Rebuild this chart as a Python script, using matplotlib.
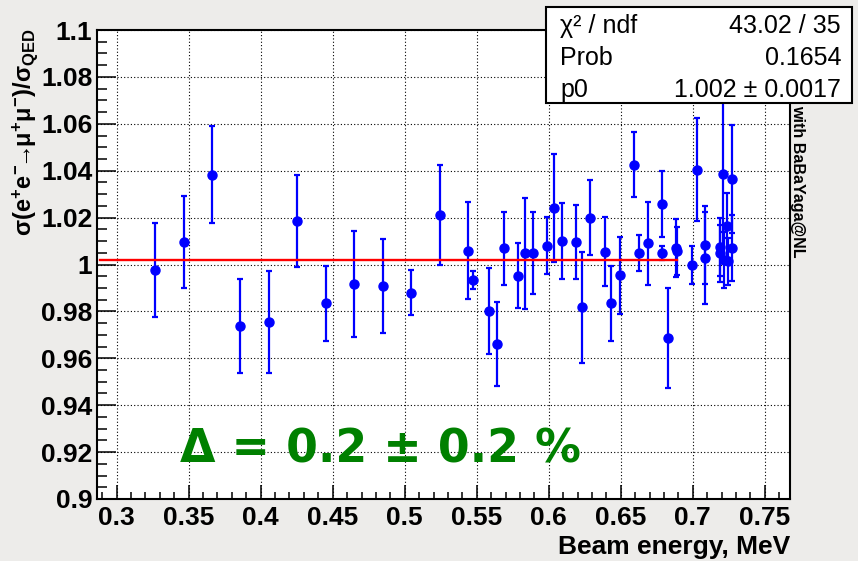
import matplotlib
matplotlib.use('Agg')
import matplotlib.pyplot as plt
from matplotlib.ticker import FixedLocator, MultipleLocator
from matplotlib.patches import Rectangle

# ---------------- data ----------------
energy = [0.3266, 0.3465, 0.3662, 0.3858, 0.4058, 0.4254, 0.4453, 0.4650,
          0.4847, 0.5046, 0.5243, 0.5442, 0.5472, 0.5588, 0.5639, 0.5692,
          0.5787, 0.5835, 0.5889, 0.5990, 0.6037, 0.6090, 0.6192, 0.6233,
          0.6287, 0.6391, 0.6431, 0.6493, 0.6595, 0.6629, 0.6690, 0.6785,
          0.6787, 0.6826, 0.6882, 0.6889, 0.6993, 0.7028, 0.7085, 0.7085,
          0.7190, 0.7192, 0.7213, 0.7218, 0.7236, 0.7247, 0.7271, 0.7271]
ratio = [0.9976, 1.0096, 1.0382, 0.9739, 0.9755, 1.0185, 0.9834, 0.9917,
         0.9907, 0.9880, 1.0212, 1.0058, 0.9934, 0.9802, 0.9661, 1.0069,
         0.9953, 1.0047, 1.0050, 1.0080, 1.0241, 1.0102, 1.0096, 0.9817,
         1.0200, 1.0054, 0.9834, 0.9955, 1.0426, 1.0049, 1.0090, 1.0258,
         1.0049, 0.9687, 1.0069, 1.0058, 0.9997, 1.0405, 1.0082, 1.0028,
         1.0075, 1.0047, 1.0385, 1.0018, 1.0166, 1.0014, 1.0364, 1.0071]
err = [0.0200, 0.0195, 0.0207, 0.0201, 0.0217, 0.0195, 0.0161, 0.0226,
       0.0200, 0.0097, 0.0214, 0.0207, 0.0037, 0.0182, 0.0178, 0.0155,
       0.0137, 0.0236, 0.0176, 0.0121, 0.0232, 0.0162, 0.0158, 0.0238,
       0.0160, 0.0147, 0.0160, 0.0164, 0.0140, 0.0076, 0.0178, 0.0141,
       0.0030, 0.0213, 0.0124, 0.0102, 0.0081, 0.0221, 0.0166, 0.0195,
       0.0125, 0.0120, 0.0360, 0.0120, 0.0140, 0.0100, 0.0230, 0.0140]

fit_p0 = 1.002
fit_range = [0.2885, 0.689]

stats_names = ['χ² / ndf', 'Prob', 'p0']
stats_values = ['43.02 / 35', '0.1654', '1.002 ± 0.0017']

x_ticks = [0.30, 0.35, 0.40, 0.45, 0.50, 0.55, 0.60, 0.65, 0.70, 0.75]
x_ticklabels = ['0.3', '0.35', '0.4', '0.45', '0.5', '0.55', '0.6', '0.65', '0.7', '0.75']
y_ticks = [0.90, 0.92, 0.94, 0.96, 0.98, 1.00, 1.02, 1.04, 1.06, 1.08, 1.10]
y_ticklabels = ['0.9', '0.92', '0.94', '0.96', '0.98', '1', '1.02', '1.04', '1.06', '1.08', '1.1']

x_title = 'Beam energy, MeV'
y_title = r'$\mathbf{\sigma(e^{+}e^{-}\!\!\rightarrow\!\!\mu^{+}\mu^{-})/\sigma_{QED}}$'
side_note = 'with BaBaYaga@NL'
delta_text = 'Δ = 0.2 ± 0.2 %'

# ---------------- style ----------------
plt.rcParams['font.family'] = ['Liberation Sans', 'DejaVu Sans']
plt.rcParams['mathtext.fontset'] = 'custom'
plt.rcParams['mathtext.rm'] = 'Liberation Sans'
plt.rcParams['mathtext.it'] = 'Liberation Sans'
plt.rcParams['mathtext.bf'] = 'Liberation Sans:bold'

W, H = 858, 561
fig = plt.figure(figsize=(W / 100, H / 100), dpi=100, facecolor='#edecea')

L, R, T, B = 96.5, 790, 30, 499
ax = fig.add_axes([L / W, 1 - B / H, (R - L) / W, (B - T) / H])
ax.set_facecolor('white')
ax.set_xlim(0.286, 0.7675)
ax.set_ylim(0.9, 1.1)

for s in ax.spines.values():
    s.set_linewidth(1.5)
    s.set_color('black')

ax.xaxis.set_major_locator(FixedLocator(x_ticks))
ax.set_xticklabels(x_ticklabels)
ax.xaxis.set_minor_locator(MultipleLocator(0.01))
ax.yaxis.set_major_locator(FixedLocator(y_ticks))
ax.set_yticklabels(y_ticklabels)
ax.yaxis.set_minor_locator(MultipleLocator(0.005))

ax.tick_params(axis='both', which='both', direction='in', top=False, right=False,
               colors='black', width=1.1)
ax.tick_params(axis='x', which='major', length=10, pad=5, labelsize=19)
ax.tick_params(axis='x', which='minor', length=5)
ax.tick_params(axis='y', which='major', length=14, pad=3, labelsize=19)
ax.tick_params(axis='y', which='minor', length=7)
for lab in ax.get_xticklabels() + ax.get_yticklabels():
    lab.set_fontweight('bold')

ax.grid(True, which='major', color='black', linestyle=(0, (1, 2)), linewidth=0.8)
ax.set_axisbelow(True)

ax.errorbar(energy, ratio, yerr=err, fmt='o', color='#0000ff', ms=6.5,
            elinewidth=1.6, capsize=2.2, capthick=1.6, zorder=3)
ax.plot(fit_range, [fit_p0, fit_p0], color='#ff0000', lw=1.7, zorder=4)

ax.text(180 / W, 1 - 450 / H, delta_text, transform=fig.transFigure,
        fontsize=33, fontweight='bold', color='#008000', family='DejaVu Sans',
        ha='left', va='center', zorder=5)

# axis titles
fig.text(25 / W, 1 - 28 / H, y_title, rotation=90, ha='center', va='top', fontsize=17)
fig.text(790 / W, 1 - 547 / H, x_title, ha='right', va='center', fontsize=19,
         fontweight='bold')

# side note
fig.text(798 / W, 1 - 105 / H, side_note, rotation=270, ha='center', va='top',
         fontsize=11.5, fontweight='bold')

# stats box
box = Rectangle((546 / W, 1 - 103 / H), (852 - 546) / W, (103 - 7) / H,
                transform=fig.transFigure, facecolor='white', edgecolor='black',
                linewidth=1.5, zorder=10)
fig.patches.append(box)
for i, (nm, val) in enumerate(zip(stats_names, stats_values)):
    yb = 1 - (33 + 32 * i) / H
    fig.text(560 / W, yb, nm, ha='left', va='baseline', fontsize=18, zorder=11)
    fig.text(841 / W, yb, val, ha='right', va='baseline', fontsize=18, zorder=11)

fig.savefig('out.png', dpi=100, facecolor=fig.get_facecolor())
